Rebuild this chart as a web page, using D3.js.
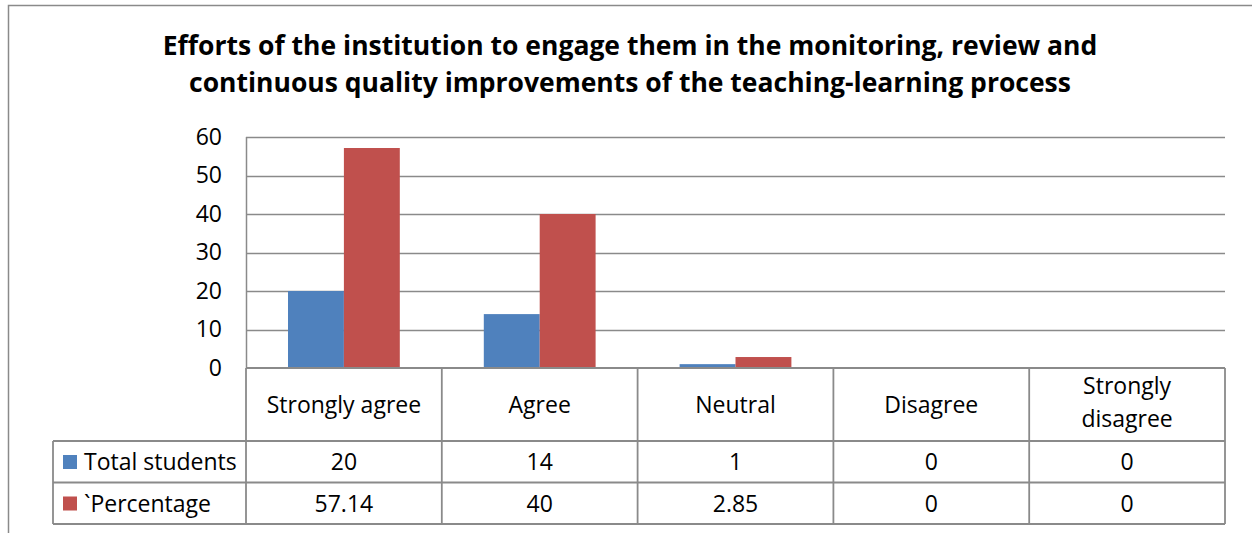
<!DOCTYPE html>
<html>
<head>
<meta charset="utf-8">
<script src="https://cdn.jsdelivr.net/npm/d3@7"></script>
<style>
  body { margin: 0; background: #fff; }
  svg { display: block; font-family: "Open Sans", "Noto Sans", sans-serif; }
</style>
</head>
<body>
<svg id="chart" width="1252" height="533"></svg>
<script>
// chart values
const categories = ["Strongly agree", "Agree", "Neutral", "Disagree", "Strongly disagree"];
const seriesNames = ["Total students", "`Percentage"];
const totalStudents = [20, 14, 1, 0, 0];
const percentage = [57.14, 40, 2.85, 0, 0];
const percentageLabels = ["57.14", "40", "2.85", "0", "0"];
const yTicks = [0, 10, 20, 30, 40, 50, 60];
const titleLines = [
  "Efforts of the institution to engage them in the monitoring, review and",
  "continuous quality improvements of the teaching-learning process"
];

const colors = ["#4F81BD", "#C0504D"];
const gridColor = "#8a8a8a";
const fontSize = 23;

const svg = d3.select("#chart");

// outer frame (cut off at right and bottom)
svg.append("path")
  .attr("d", "M8.5,533 V5.5 H1252")
  .attr("fill", "none")
  .attr("stroke", gridColor)
  .attr("stroke-width", 1.5);

// title
svg.append("g")
  .selectAll("text")
  .data(titleLines)
  .enter()
  .append("text")
  .attr("x", 630)
  .attr("y", (d, i) => 55 + i * 37)
  .attr("text-anchor", "middle")
  .attr("font-size", 26.5)
  .attr("font-weight", "bold")
  .attr("fill", "#000")
  .text((d) => d);

const plot = { left: 246, right: 1225, top: 137, bottom: 368 };

const x0 = d3.scaleBand()
  .domain(categories)
  .range([plot.left, plot.right])
  .padding(0);

const groupPad = 42;
const x1 = d3.scaleBand()
  .domain(seriesNames)
  .range([groupPad, x0.bandwidth() - groupPad])
  .padding(0);

const y = d3.scaleLinear()
  .domain([0, 60])
  .range([plot.bottom, plot.top]);

// gridlines
svg.append("g")
  .selectAll("line")
  .data(yTicks.filter((d) => d > 0))
  .enter()
  .append("line")
  .attr("x1", plot.left)
  .attr("x2", plot.right)
  .attr("y1", (d) => Math.round(y(d)) + 0.5)
  .attr("y2", (d) => Math.round(y(d)) + 0.5)
  .attr("stroke", gridColor)
  .attr("stroke-width", 1.3);

// y axis labels
const yAxis = d3.axisLeft(y).tickValues(yTicks).tickSize(0).tickPadding(24);
const yAxisG = svg.append("g")
  .attr("transform", `translate(${plot.left},0)`)
  .call(yAxis);
yAxisG.select(".domain").remove();
yAxisG.selectAll("text")
  .attr("font-size", fontSize)
  .attr("font-family", "'Open Sans', 'Noto Sans', sans-serif")
  .attr("fill", "#000");

// bars
const rows = [totalStudents, percentage];
const barData = [];
categories.forEach((c, ci) => {
  seriesNames.forEach((s, si) => {
    barData.push({ cat: c, series: s, value: rows[si][ci], si });
  });
});

svg.append("g")
  .selectAll("rect")
  .data(barData.filter((d) => d.value > 0))
  .enter()
  .append("rect")
  .attr("x", (d) => x0(d.cat) + x1(d.series))
  .attr("width", x1.bandwidth())
  .attr("y", (d) => y(d.value))
  .attr("height", (d) => y(0) - y(d.value))
  .attr("fill", (d) => colors[d.si]);

// left axis line of plot
svg.append("line")
  .attr("x1", plot.left + 0.5)
  .attr("x2", plot.left + 0.5)
  .attr("y1", plot.top)
  .attr("y2", plot.bottom)
  .attr("stroke", gridColor)
  .attr("stroke-width", 1.5);

// data table
const table = { legendLeft: 53, headerBottom: 441, rowH: 41.5 };
const tableBottom = table.headerBottom + table.rowH * 2;
const tg = svg.append("g")
  .attr("fill", "none")
  .attr("stroke", gridColor)
  .attr("stroke-width", 1.8);

// horizontal lines
tg.append("line")
  .attr("x1", plot.left).attr("x2", plot.right)
  .attr("y1", plot.bottom).attr("y2", plot.bottom);
[0, 1, 2].forEach((i) => {
  tg.append("line")
    .attr("x1", table.legendLeft).attr("x2", plot.right)
    .attr("y1", table.headerBottom + i * table.rowH)
    .attr("y2", table.headerBottom + i * table.rowH);
});
// vertical lines
tg.append("line")
  .attr("x1", table.legendLeft).attr("x2", table.legendLeft)
  .attr("y1", table.headerBottom).attr("y2", tableBottom);
categories.concat([null]).forEach((c) => {
  const xv = c ? x0(c) : plot.right;
  tg.append("line")
    .attr("x1", xv).attr("x2", xv)
    .attr("y1", plot.bottom).attr("y2", tableBottom);
});

// header labels
const headerG = svg.append("g")
  .attr("font-size", fontSize)
  .attr("fill", "#000")
  .attr("text-anchor", "middle");
categories.forEach((c) => {
  const cx = x0(c) + x0.bandwidth() / 2;
  const words = c === "Strongly disagree" ? ["Strongly", "disagree"] : [c];
  const t = headerG.append("text");
  if (words.length === 1) {
    t.attr("x", cx).attr("y", 413).text(c);
  } else {
    words.forEach((w, wi) => {
      t.append("tspan").attr("x", cx).attr("y", 394 + wi * 33).text(w);
    });
  }
});

// row values + legend
const rowLabels = [totalStudents.map(String), percentageLabels];
seriesNames.forEach((s, si) => {
  const rowTop = table.headerBottom + si * table.rowH;
  const baseY = rowTop + 29;
  svg.append("rect")
    .attr("x", 63)
    .attr("y", rowTop + 14)
    .attr("width", 14)
    .attr("height", 14)
    .attr("fill", colors[si]);
  svg.append("text")
    .attr("x", 84)
    .attr("y", baseY)
    .attr("font-size", fontSize)
    .attr("fill", "#000")
    .text(s);
  svg.append("g")
    .selectAll("text")
    .data(categories)
    .enter()
    .append("text")
    .attr("x", (c) => x0(c) + x0.bandwidth() / 2)
    .attr("y", baseY)
    .attr("text-anchor", "middle")
    .attr("font-size", fontSize)
    .attr("fill", "#000")
    .text((c, ci) => rowLabels[si][ci]);
});
</script>
</body>
</html>
